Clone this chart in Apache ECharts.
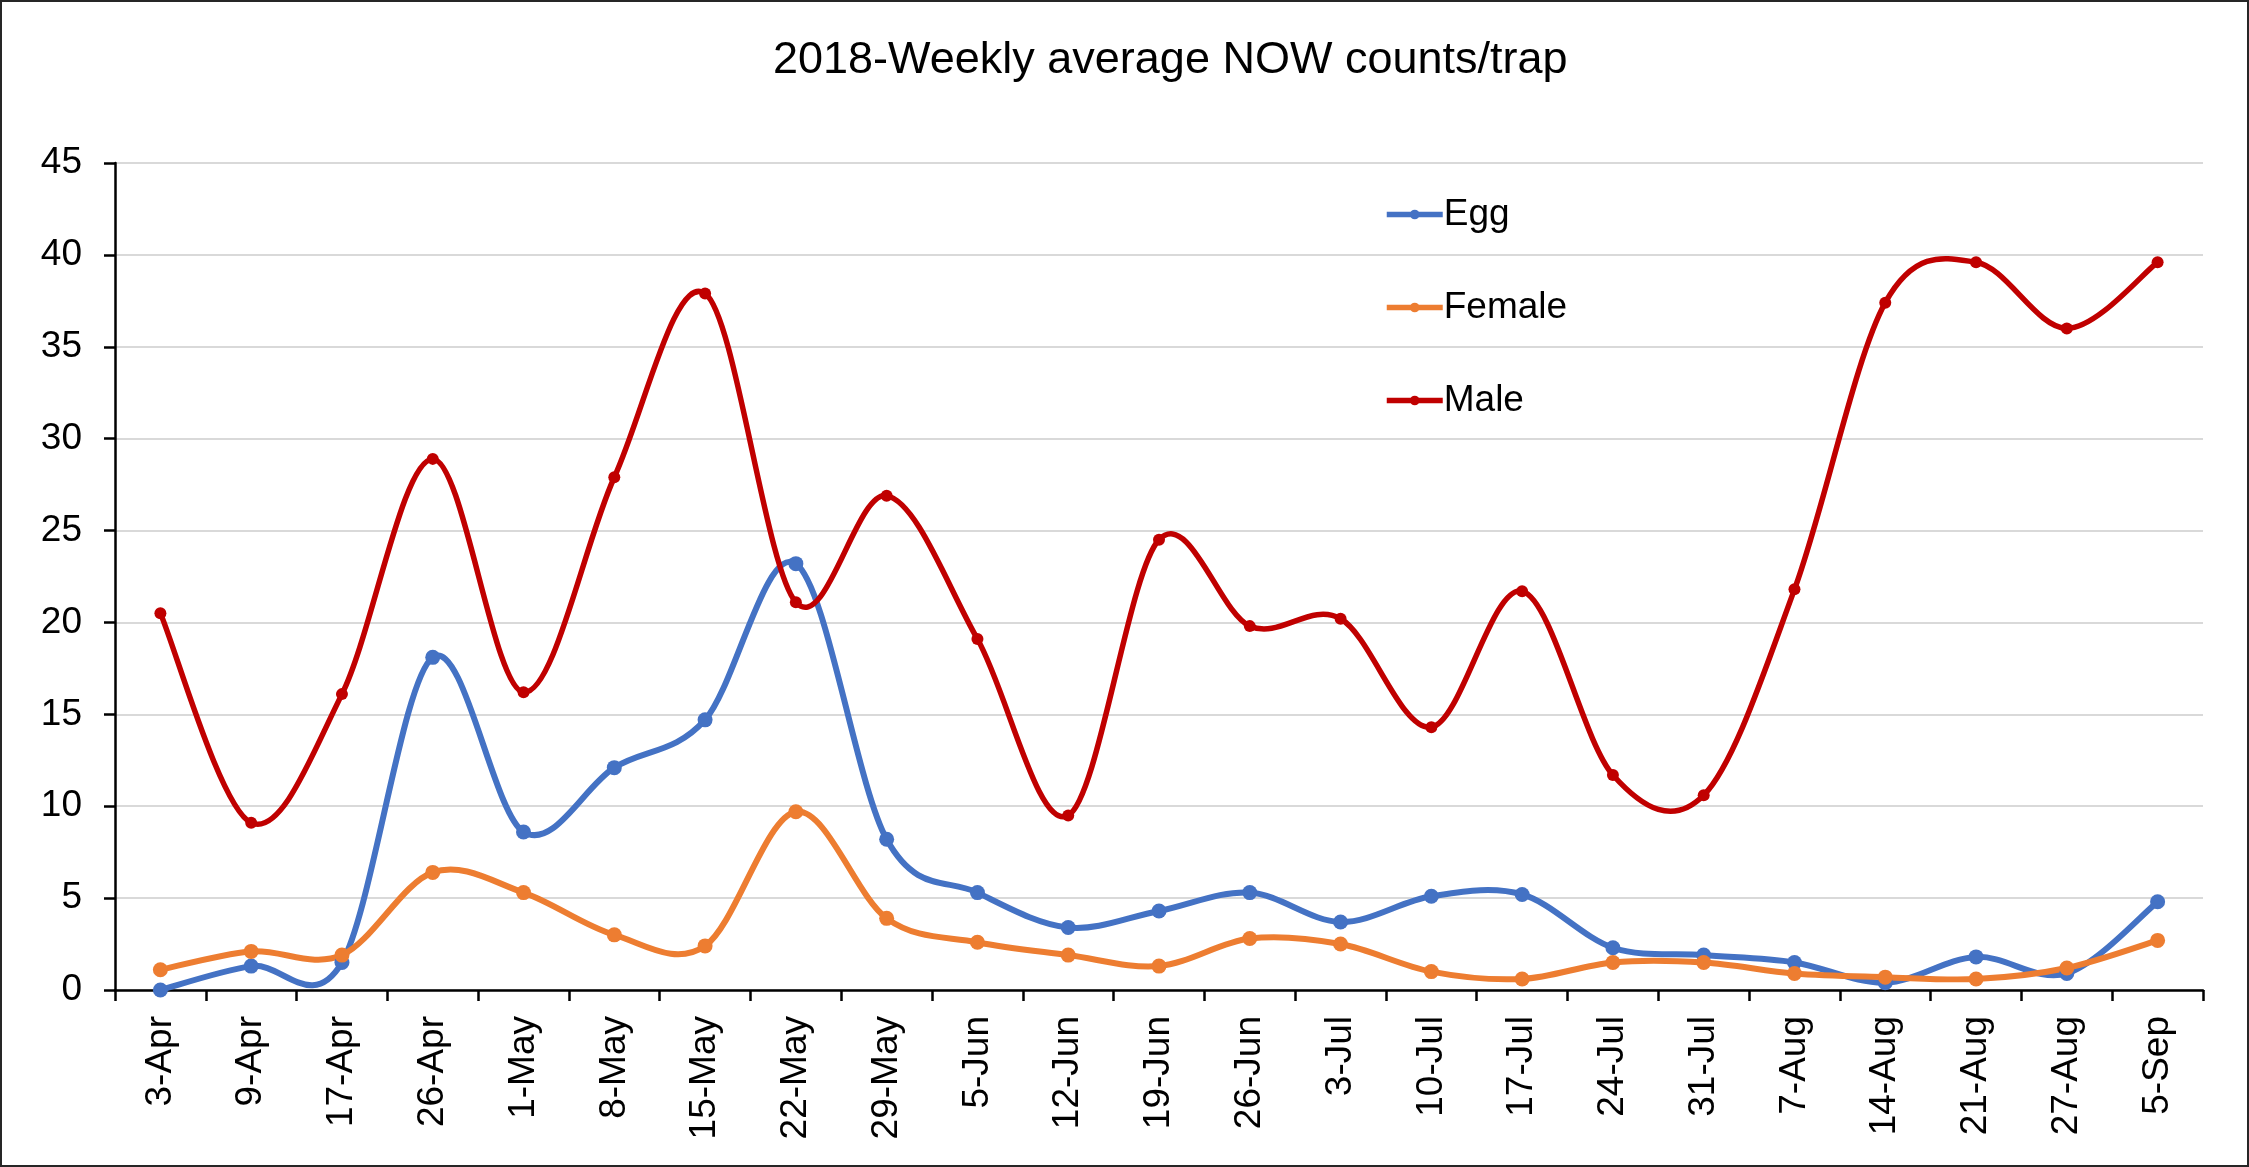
<!DOCTYPE html>
<html>
<head>
<meta charset="utf-8">
<script src="https://cdn.jsdelivr.net/npm/echarts@6/dist/echarts.min.js"></script>
<style>
html,body{margin:0;padding:0;background:#fff;}
#frame{width:2249px;height:1167px;box-sizing:border-box;border:2px solid #262626;position:relative;}
#chart{position:absolute;left:-2px;top:-2px;width:2249px;height:1167px;}
</style>
</head>
<body>
<div id="frame"><div id="chart"></div></div>
<script>
const categories = ['3-Apr','9-Apr','17-Apr','26-Apr','1-May','8-May','15-May','22-May','29-May','5-Jun','12-Jun','19-Jun','26-Jun','3-Jul','10-Jul','17-Jul','24-Jul','31-Jul','7-Aug','14-Aug','21-Aug','27-Aug','5-Sep'];
const eggValues = [0, 1.3, 1.5, 18.1, 8.6, 12.1, 14.7, 23.2, 8.2, 5.3, 3.4, 4.3, 5.3, 3.7, 5.1, 5.2, 2.3, 1.9, 1.5, 0.4, 1.8, 0.9, 4.8];
const femaleValues = [1.1, 2.1, 1.9, 6.4, 5.3, 3.0, 2.4, 9.7, 3.9, 2.6, 1.9, 1.3, 2.8, 2.5, 1.0, 0.6, 1.5, 1.5, 0.9, 0.7, 0.6, 1.2, 2.7];
const maleValues = [20.5, 9.1, 16.1, 28.9, 16.2, 27.9, 37.9, 21.1, 26.9, 19.1, 9.5, 24.5, 19.8, 20.2, 14.3, 21.7, 11.7, 10.6, 21.8, 37.4, 39.6, 36.0, 39.6];
const yTicks = {min: 0, max: 45, interval: 5};

const FONT = '"Liberation Sans", Arial, sans-serif';
const chart = echarts.init(document.getElementById('chart'), null, {renderer: 'canvas'});

function markerSeries(name, data, color, sym, lw) {
  return {
    name: name, type: 'line', data: data,
    symbol: 'circle', symbolSize: sym, showSymbol: true,
    lineStyle: {color: color, width: lw, opacity: 0},
    itemStyle: {color: color, borderWidth: 0},
    emphasis: {disabled: true},
    z: 4
  };
}

// Smooth curve (Catmull-Rom style bezier, like Excel's smoothed line) drawn through the axes' coordinate system
function curveSeries(name, values, color, lw) {
  const n = values.length;
  return {
    name: name + ' curve', type: 'custom',
    data: values.map((v, i) => [i, v]),
    encode: {x: 0, y: 1},
    silent: true, z: 3,
    renderItem: function (params, api) {
      const i = params.dataIndex;
      if (i >= n - 1) return {type: 'group', children: []};
      const c = k => { k = Math.max(0, Math.min(n - 1, k)); return api.coord([k, values[k]]); };
      const p0 = c(i - 1), p1 = c(i), p2 = c(i + 1), p3 = c(i + 2);
      const t = 1 / 6;
      return {
        type: 'bezierCurve',
        shape: {
          x1: p1[0], y1: p1[1], x2: p2[0], y2: p2[1],
          cpx1: p1[0] + (p2[0] - p0[0]) * t, cpy1: p1[1] + (p2[1] - p0[1]) * t,
          cpx2: p2[0] - (p3[0] - p1[0]) * t, cpy2: p2[1] - (p3[1] - p1[1]) * t
        },
        style: {stroke: color, lineWidth: lw, fill: null, lineCap: 'round'}
      };
    }
  };
}

chart.setOption({
  animation: false,
  backgroundColor: 'transparent',
  title: {
    text: '2018-Weekly average NOW counts/trap',
    left: 768, top: 33,
    textStyle: {fontFamily: FONT, fontSize: 45, fontWeight: 'normal', color: '#000'}
  },
  legend: {
    orient: 'vertical', left: 1379, top: 191,
    itemWidth: 56, itemHeight: 12, itemGap: 56,
    lineStyle: {width: 5.5, opacity: 1},
    textStyle: {fontFamily: FONT, fontSize: 37, color: '#000', padding: [0,0,0,-4]},
    data: ['Egg','Female','Male']
  },
  grid: {left: 115, right: 46, top: 163, bottom: 177, containLabel: false},
  xAxis: {
    type: 'category', data: categories, boundaryGap: true,
    axisLine: {lineStyle: {color: '#000', width: 2.5}},
    axisTick: {show: true, inside: false, length: 11, interval: 0, lineStyle: {color: '#000', width: 2.5}},
    axisLabel: {rotate: 90, interval: 0, margin: 26, fontFamily: FONT, fontSize: 37, color: '#000'},
    splitLine: {show: false}
  },
  yAxis: {
    type: 'value', min: yTicks.min, max: yTicks.max, interval: yTicks.interval,
    axisLine: {show: true, lineStyle: {color: '#000', width: 2.5}},
    axisTick: {show: true, inside: false, length: 11, lineStyle: {color: '#000', width: 2.5}},
    axisLabel: {margin: 33, fontFamily: FONT, fontSize: 37, color: '#000'},
    splitLine: {show: true, lineStyle: {color: '#d9d9d9', width: 2}}
  },
  series: [
    markerSeries('Egg', eggValues, '#4472C4', 15, 6),
    markerSeries('Female', femaleValues, '#ED7D31', 15, 6),
    markerSeries('Male', maleValues, '#C00000', 12, 5.5),
    curveSeries('Egg', eggValues, '#4472C4', 6),
    curveSeries('Female', femaleValues, '#ED7D31', 6),
    curveSeries('Male', maleValues, '#C00000', 5.5)
  ]
});
</script>
</body>
</html>
